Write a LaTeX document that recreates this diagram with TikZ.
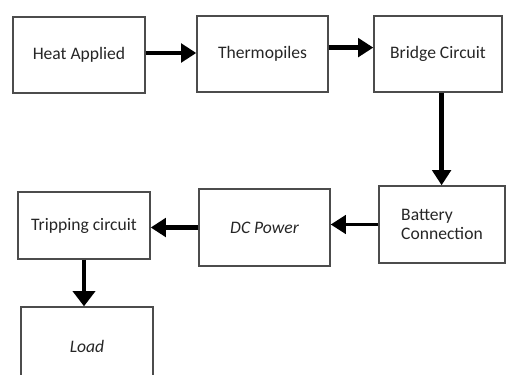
\documentclass[tikz,border=0pt]{standalone}
\usepackage{fontspec}
\setmainfont{Carlito}
\usetikzlibrary{arrows.meta}

\begin{document}
\begin{tikzpicture}[every node/.style={font=\fontsize{12.5}{14}\selectfont, text=black!85},
	block/.style={draw=black!70, line width=1pt, minimum width=3.3cm, minimum height=1.9cm, inner sep=2pt},
	arr/.style={line width=3.2pt, -{Triangle[length=3.8mm, width=4.6mm]}}]
	\useasboundingbox (0,0) rectangle (12.675,-9.35);
	\node[block] (heat) at (1.975,-1.375) {Heat Applied};
	\node[block, minimum width=3.275cm] (thermo) at (6.5625,-1.35) {Thermopiles};
	\node[block, minimum width=3.2cm] (bridge) at (10.95,-1.35) {Bridge Circuit};
	\node[block, minimum width=3.15cm, minimum height=1.925cm, align=left] (battery) at (11.05,-5.6125) {Battery\\ Connection};
	\node[block, minimum width=3.275cm, minimum height=1.925cm] (dc) at (6.6125,-5.6875) {\itshape DC Power};
	\node[block, minimum height=1.675cm] (trip) at (2.1,-5.6375) {Tripping circuit};
	\node[block, minimum height=1.95cm] (load) at (2.175,-8.65) {\itshape Load};
	\draw[arr] ([yshift=0.5mm]heat.east) -- ([yshift=0.5mm]heat.east -| thermo.west);
	\draw[arr] ([yshift=1.6mm]thermo.east) -- ([yshift=1.6mm]thermo.east -| bridge.west);
	\draw[arr] ([xshift=0.9mm]bridge.south) -- ([xshift=0.9mm]bridge.south |- battery.north);
	\draw[arr, line width=2.4pt] (battery.west) -- (battery.west -| dc.east);
	\draw[arr] (dc.west) -- (dc.west -| trip.east);
	\draw[arr, -{Triangle[length=3.8mm, width=5.5mm]}] (trip.south) -- (trip.south |- load.north);
\end{tikzpicture}
\end{document}
